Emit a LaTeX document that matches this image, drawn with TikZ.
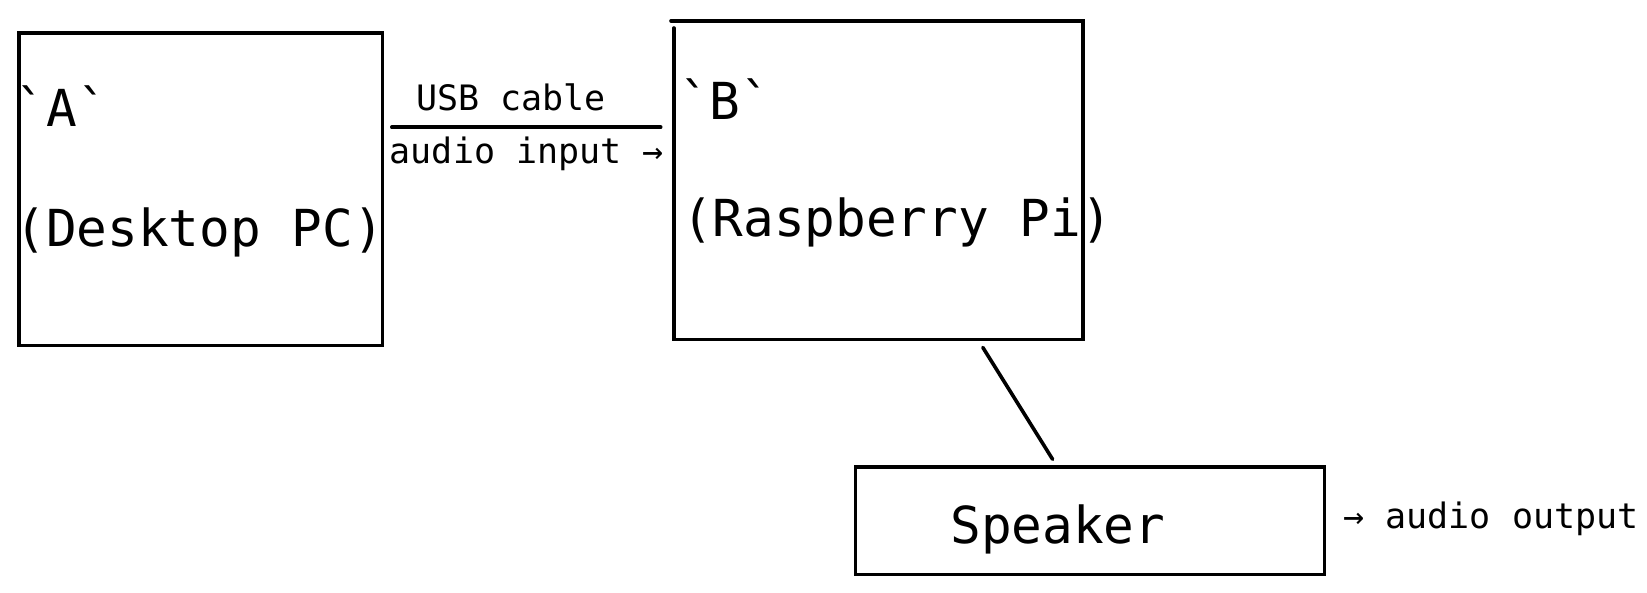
\documentclass[tikz,border=0pt]{standalone}
\usepackage{fontspec}
\setmainfont{DejaVu Sans Mono}[Ligatures=TeXOff]
\begin{document}
\begin{tikzpicture}[x=1pt,y=-1pt,
  edge/.style={line width=3.6pt,line cap=round},
  big/.style={inner sep=0pt,anchor=base,font=\fontsize{51}{51}\selectfont},
  small/.style={inner sep=0pt,anchor=base,font=\fontsize{35}{35}\selectfont}]
\useasboundingbox (0,0) rectangle (1647,593);
% box A
\coordinate (a1) at (18.9,32.8);
\coordinate (a2) at (382.6,345.6);
\draw[edge] (a1) rectangle (a2);
% box B (hand drawn)
\coordinate (bt0) at (671,20.8);
\coordinate (btr) at (1083,20.8);
\coordinate (bl0) at (673.8,28);
\coordinate (bbl) at (673.8,339.5);
\coordinate (bbr) at (1083,339.5);
\draw[edge] (bt0) -- (btr) -- (bbr) -- (bbl) -- (bl0);
% speaker box
\coordinate (s1) at (855.6,466.8);
\coordinate (s2) at (1324.6,574.6);
\draw[edge] (s1) rectangle (s2);
% texts
\node[big] (ta) at (62,127) {\symbol{96}A\symbol{96}};
\node[big] (tdesk) at (199.6,246.7) {(Desktop PC)};
\node[big] (tb) at (725.3,119.5) {\symbol{96}B\symbol{96}};
\node[big] (trasp) at (897,237) {(Raspberry Pi)};
\node[big] (tspk) at (1057.8,543.5) {Speaker};
\node[small] (tusb) at (511,110.5) {USB cable};
\node[small] (tin) at (526.8,164) {audio input →};
\node[small] (tout) at (1491,528.5) {→ audio output};
% connectors
\coordinate (u1) at (391.8,127.2);
\coordinate (u2) at (660.7,127.2);
\draw[edge] (u1) -- (u2);
\coordinate (c1) at (982.8,347.4);
\coordinate (c2) at (1052.6,459.3);
\draw[edge] (c1) -- (c2);
\end{tikzpicture}
\end{document}
